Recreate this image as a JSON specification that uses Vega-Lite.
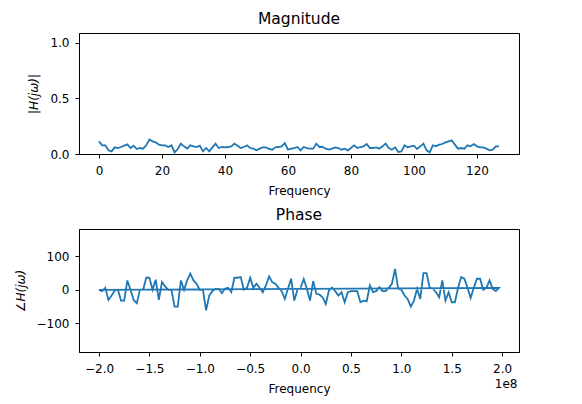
{
  "$schema": "https://vega.github.io/schema/vega-lite/v6.json",
  "padding": {"left": 13, "top": 11, "right": 5, "bottom": 5},
  "background": "white",
  "config": {
    "font": "DejaVu Sans",
    "view": {"stroke": "#000", "strokeWidth": 1},
    "axis": {"grid": false, "domainColor": "#000", "tickColor": "#000", "labelColor": "#000", "titleColor": "#000", "labelFont": "DejaVu Sans", "titleFont": "DejaVu Sans", "labelFontSize": 12, "titleFontSize": 12, "titleFontWeight": "normal", "tickSize": 4, "domainWidth": 1, "tickWidth": 1},
    "axisX": {"labelPadding": 7, "titlePadding": 9},
    "axisY": {"labelPadding": 6, "titlePadding": 9},
    "title": {"font": "DejaVu Sans", "fontSize": 15.5, "fontWeight": "normal", "color": "#000", "frame": "group", "anchor": "middle", "offset": 6},
    "concat": {"spacing": 10}
  },
  "datasets": {
    "mag": [
      {"i":0,"m":0.114},{"i":1,"m":0.078},{"i":2,"m":0.078},{"i":3,"m":0.033},{"i":4,"m":0.024},{"i":5,"m":0.06},{"i":6,"m":0.054},{"i":7,"m":0.063},
      {"i":8,"m":0.075},{"i":9,"m":0.087},{"i":10,"m":0.054},{"i":11,"m":0.075},{"i":12,"m":0.045},{"i":13,"m":0.054},{"i":14,"m":0.048},{"i":15,"m":0.078},
      {"i":16,"m":0.13},{"i":17,"m":0.114},{"i":18,"m":0.105},{"i":19,"m":0.084},{"i":20,"m":0.078},{"i":21,"m":0.078},{"i":22,"m":0.063},{"i":23,"m":0.078},
      {"i":24,"m":0.015},{"i":25,"m":0.045},{"i":26,"m":0.093},{"i":27,"m":0.069},{"i":28,"m":0.048},{"i":29,"m":0.078},{"i":30,"m":0.069},{"i":31,"m":0.063},
      {"i":32,"m":0.075},{"i":33,"m":0.024},{"i":34,"m":0.054},{"i":35,"m":0.024},{"i":36,"m":0.06},{"i":37,"m":0.093},{"i":38,"m":0.054},{"i":39,"m":0.063},
      {"i":40,"m":0.06},{"i":41,"m":0.063},{"i":42,"m":0.069},{"i":43,"m":0.093},{"i":44,"m":0.075},{"i":45,"m":0.054},{"i":46,"m":0.063},{"i":47,"m":0.078},
      {"i":48,"m":0.054},{"i":49,"m":0.048},{"i":50,"m":0.033},{"i":51,"m":0.048},{"i":52,"m":0.06},{"i":53,"m":0.06},{"i":54,"m":0.045},{"i":55,"m":0.039},
      {"i":56,"m":0.06},{"i":57,"m":0.063},{"i":58,"m":0.069},{"i":59,"m":0.099},{"i":60,"m":0.039},{"i":61,"m":0.048},{"i":62,"m":0.054},{"i":63,"m":0.063},
      {"i":64,"m":0.033},{"i":65,"m":0.063},{"i":66,"m":0.054},{"i":67,"m":0.048},{"i":68,"m":0.048},{"i":69,"m":0.093},{"i":70,"m":0.063},{"i":71,"m":0.063},
      {"i":72,"m":0.048},{"i":73,"m":0.039},{"i":74,"m":0.048},{"i":75,"m":0.06},{"i":76,"m":0.054},{"i":77,"m":0.039},{"i":78,"m":0.048},{"i":79,"m":0.033},
      {"i":80,"m":0.054},{"i":81,"m":0.078},{"i":82,"m":0.054},{"i":83,"m":0.063},{"i":84,"m":0.069},{"i":85,"m":0.09},{"i":86,"m":0.054},{"i":87,"m":0.054},
      {"i":88,"m":0.06},{"i":89,"m":0.048},{"i":90,"m":0.069},{"i":91,"m":0.093},{"i":92,"m":0.054},{"i":93,"m":0.039},{"i":94,"m":0.06},{"i":95,"m":0.018},
      {"i":96,"m":0.024},{"i":97,"m":0.078},{"i":98,"m":0.06},{"i":99,"m":0.069},{"i":100,"m":0.075},{"i":101,"m":0.045},{"i":102,"m":0.069},{"i":103,"m":0.093},
      {"i":104,"m":0.033},{"i":105,"m":0.015},{"i":106,"m":0.078},{"i":107,"m":0.069},{"i":108,"m":0.084},{"i":109,"m":0.09},{"i":110,"m":0.105},{"i":111,"m":0.114},
      {"i":112,"m":0.123},{"i":113,"m":0.084},{"i":114,"m":0.048},{"i":115,"m":0.054},{"i":116,"m":0.048},{"i":117,"m":0.078},{"i":118,"m":0.069},{"i":119,"m":0.09},
      {"i":120,"m":0.069},{"i":121,"m":0.06},{"i":122,"m":0.06},{"i":123,"m":0.048},{"i":124,"m":0.033},{"i":125,"m":0.039},{"i":126,"m":0.069},{"i":127,"m":0.069}
    ],
    "phase": [
      {"o":64,"f":-200000000,"p":0},{"o":65,"f":-196875000,"p":-4},{"o":66,"f":-193750000,"p":6},{"o":67,"f":-190625000,"p":-30},
      {"o":68,"f":-187500000,"p":-17},{"o":69,"f":-184375000,"p":-2},{"o":70,"f":-181250000,"p":0},{"o":71,"f":-178125000,"p":-32},
      {"o":72,"f":-175000000,"p":-32},{"o":73,"f":-171875000,"p":28},{"o":74,"f":-168750000,"p":0},{"o":75,"f":-165625000,"p":-30},
      {"o":76,"f":-162500000,"p":-40},{"o":77,"f":-159375000,"p":0},{"o":78,"f":-156250000,"p":0},{"o":79,"f":-153125000,"p":36},
      {"o":80,"f":-150000000,"p":36},{"o":81,"f":-146875000,"p":0},{"o":82,"f":-143750000,"p":30},{"o":83,"f":-140625000,"p":-30},
      {"o":84,"f":-137500000,"p":23},{"o":85,"f":-134375000,"p":10},{"o":86,"f":-131250000,"p":0},{"o":87,"f":-128125000,"p":0},
      {"o":88,"f":-125000000,"p":-50},{"o":89,"f":-121875000,"p":-50},{"o":90,"f":-118750000,"p":28},{"o":91,"f":-115625000,"p":0},
      {"o":92,"f":-112500000,"p":28},{"o":93,"f":-109375000,"p":48},{"o":94,"f":-106250000,"p":28},{"o":95,"f":-103125000,"p":18},
      {"o":96,"f":-100000000,"p":0},{"o":97,"f":-96875000,"p":0},{"o":98,"f":-93750000,"p":-61},{"o":99,"f":-90625000,"p":-17},
      {"o":100,"f":-87500000,"p":-4},{"o":101,"f":-84375000,"p":3},{"o":102,"f":-81250000,"p":3},{"o":103,"f":-78125000,"p":-10},
      {"o":104,"f":-75000000,"p":3},{"o":105,"f":-71875000,"p":6},{"o":106,"f":-68750000,"p":-7},{"o":107,"f":-65625000,"p":36},
      {"o":108,"f":-62500000,"p":36},{"o":109,"f":-59375000,"p":38},{"o":110,"f":-56250000,"p":0},{"o":111,"f":-53125000,"p":6},
      {"o":112,"f":-50000000,"p":36},{"o":113,"f":-46875000,"p":6},{"o":114,"f":-43750000,"p":18},{"o":115,"f":-40625000,"p":6},
      {"o":116,"f":-37500000,"p":-7},{"o":117,"f":-34375000,"p":13},{"o":118,"f":-31250000,"p":40},{"o":119,"f":-28125000,"p":23},
      {"o":120,"f":-25000000,"p":18},{"o":121,"f":-21875000,"p":6},{"o":122,"f":-18750000,"p":-4},{"o":123,"f":-15625000,"p":-27},
      {"o":124,"f":-12500000,"p":3},{"o":125,"f":-9375000,"p":33},{"o":126,"f":-6250000,"p":-32},{"o":127,"f":-3125000,"p":0},
      {"o":0,"f":0,"p":6},{"o":1,"f":3125000,"p":32},{"o":2,"f":6250000,"p":3},{"o":3,"f":9375000,"p":-32},
      {"o":4,"f":12500000,"p":26},{"o":5,"f":15625000,"p":-12},{"o":6,"f":18750000,"p":-14},{"o":7,"f":21875000,"p":-22},
      {"o":8,"f":25000000,"p":-42},{"o":9,"f":28125000,"p":-2},{"o":10,"f":31250000,"p":6},{"o":11,"f":34375000,"p":-4},
      {"o":12,"f":37500000,"p":-17},{"o":13,"f":40625000,"p":-7},{"o":14,"f":43750000,"p":-37},{"o":15,"f":46875000,"p":-7},
      {"o":16,"f":50000000,"p":-4},{"o":17,"f":53125000,"p":-4},{"o":18,"f":56250000,"p":-4},{"o":19,"f":59375000,"p":-37},
      {"o":20,"f":62500000,"p":-32},{"o":21,"f":65625000,"p":-34},{"o":22,"f":68750000,"p":13},{"o":23,"f":71875000,"p":-7},
      {"o":24,"f":75000000,"p":-4},{"o":25,"f":78125000,"p":8},{"o":26,"f":81250000,"p":-4},{"o":27,"f":84375000,"p":-4},
      {"o":28,"f":87500000,"p":6},{"o":29,"f":90625000,"p":18},{"o":30,"f":93750000,"p":62},{"o":31,"f":96875000,"p":3},
      {"o":32,"f":100000000,"p":0},{"o":33,"f":103125000,"p":-17},{"o":34,"f":106250000,"p":-27},{"o":35,"f":109375000,"p":-50},
      {"o":36,"f":112500000,"p":-32},{"o":37,"f":115625000,"p":3},{"o":38,"f":118750000,"p":-27},{"o":39,"f":121875000,"p":50},
      {"o":40,"f":125000000,"p":50},{"o":41,"f":128125000,"p":6},{"o":42,"f":131250000,"p":3},{"o":43,"f":134375000,"p":-7},
      {"o":44,"f":137500000,"p":-22},{"o":45,"f":140625000,"p":28},{"o":46,"f":143750000,"p":-32},{"o":47,"f":146875000,"p":-7},
      {"o":48,"f":150000000,"p":-37},{"o":49,"f":153125000,"p":-37},{"o":50,"f":156250000,"p":6},{"o":51,"f":159375000,"p":38},
      {"o":52,"f":162500000,"p":33},{"o":53,"f":165625000,"p":6},{"o":54,"f":168750000,"p":-24},{"o":55,"f":171875000,"p":6},
      {"o":56,"f":175000000,"p":33},{"o":57,"f":178125000,"p":33},{"o":58,"f":181250000,"p":0},{"o":59,"f":184375000,"p":6},
      {"o":60,"f":187500000,"p":28},{"o":61,"f":190625000,"p":3},{"o":62,"f":193750000,"p":-4},{"o":63,"f":196875000,"p":6}
    ]
  },
  "vconcat": [
    {
      "title": {"text": "Magnitude"},
      "width": 440,
      "height": 121,
      "data": {"name": "mag"},
      "mark": {"type": "line", "color": "#1f77b4", "strokeWidth": 1.8, "clip": true},
      "encoding": {
        "x": {"field": "i", "type": "quantitative", "scale": {"domain": [-6.35, 133.35], "nice": false, "zero": false},
              "axis": {"values": [0, 20, 40, 60, 80, 100, 120], "title": "Frequency"}},
        "y": {"field": "m", "type": "quantitative", "scale": {"domain": [0, 1.09], "nice": false},
              "axis": {"values": [0, 0.5, 1], "format": ".1f", "title": "|H(jω)|", "titleFontStyle": "italic"}}
      }
    },
    {
      "title": {"text": "Phase"},
      "width": 440,
      "height": 123,
      "data": {"name": "phase"},
      "layer": [
        {
          "mark": {"type": "line", "color": "#1f77b4", "strokeWidth": 1.8, "clip": true},
          "encoding": {
            "x": {"field": "f", "type": "quantitative", "scale": {"domain": [-219843750, 216718750], "nice": false, "zero": false},
                  "axis": {"values": [-200000000, -150000000, -100000000, -50000000, 0, 50000000, 100000000, 150000000, 200000000],
                           "labelExpr": "replace(format(datum.value / 100000000, '.1f'), '-', '\u2212')", "title": "Frequency"}},
            "y": {"field": "p", "type": "quantitative", "scale": {"domain": [-185, 181], "nice": false},
                  "axis": {"values": [-100, 0, 100], "labelExpr": "replace(format(datum.value, 'd'), '-', '\u2212')", "title": "∠H(jω)", "titleFontStyle": "italic"}},
            "order": {"field": "o", "type": "quantitative"}
          }
        },
        {
          "mark": {"type": "line", "strokeOpacity": 0, "clip": true},
          "encoding": {
            "x": {"field": "f", "type": "quantitative",
                  "axis": {"orient": "top", "labels": false, "ticks": false, "domain": false, "title": "1e8",
                           "titleAnchor": "end", "titleAlign": "right", "titleX": 438, "titleY": 158, "titleBaseline": "alphabetic"}},
            "y": {"field": "p", "type": "quantitative"}
          }
        }
      ],
      "resolve": {"axis": {"x": "independent"}}
    }
  ]
}
